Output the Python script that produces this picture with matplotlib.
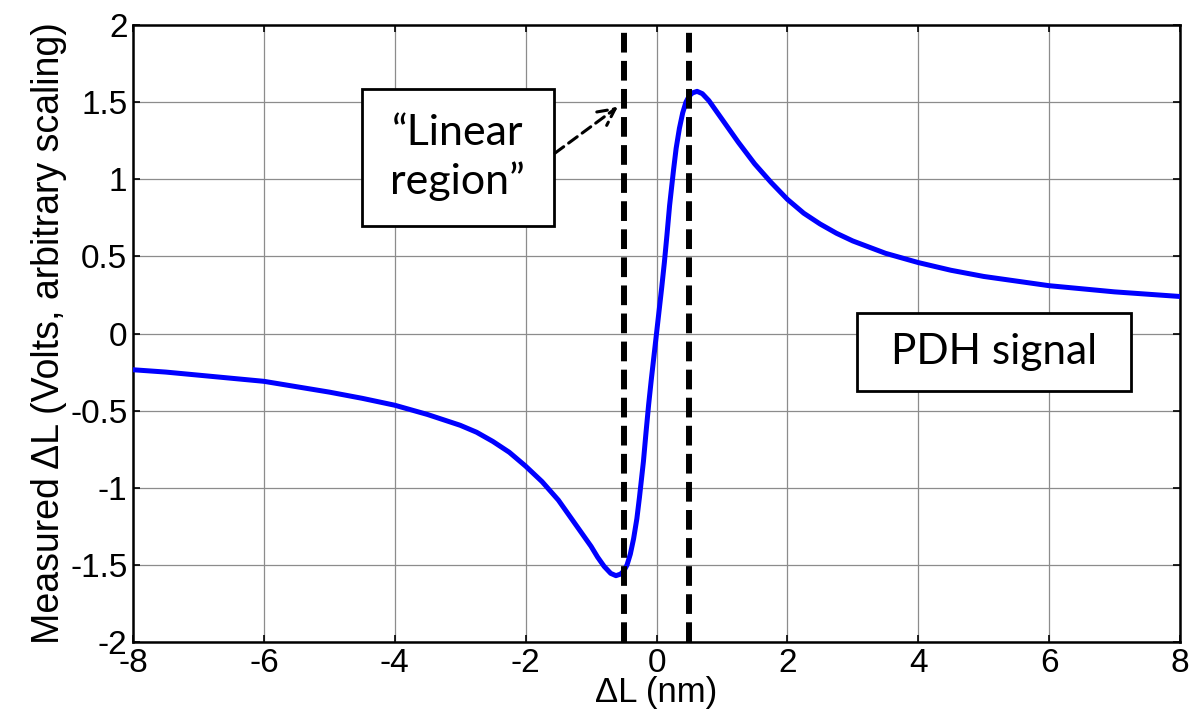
import matplotlib
matplotlib.use("Agg")
import matplotlib.pyplot as plt
from matplotlib.patches import Rectangle

# PDH error signal versus cavity length detuning
detuning_nm = [-8.0, -7.5, -7.0, -6.5, -6.0, -5.5, -5.0, -4.5, -4.0, -3.5,
               -3.0, -2.75, -2.5, -2.25, -2.0, -1.75, -1.5, -1.25, -1.0, -0.9,
               -0.8, -0.7, -0.62, -0.55, -0.5, -0.45, -0.4, -0.35, -0.3, -0.26,
               -0.2, -0.16, -0.12, -0.08, -0.04, 0.0, 0.04, 0.08, 0.12, 0.16,
               0.2, 0.26, 0.3, 0.35, 0.4, 0.45, 0.5, 0.55, 0.62, 0.7,
               0.8, 0.9, 1.0, 1.25, 1.5, 1.75, 2.0, 2.25, 2.5, 2.75,
               3.0, 3.5, 4.0, 4.5, 5.0, 5.5, 6.0, 6.5, 7.0, 7.5,
               8.0]
signal_v = [-0.235, -0.25, -0.27, -0.29, -0.31, -0.345, -0.38, -0.42, -0.465, -0.525,
            -0.595, -0.64, -0.70, -0.77, -0.86, -0.96, -1.08, -1.23, -1.38, -1.45,
            -1.51, -1.555, -1.57, -1.56, -1.54, -1.50, -1.43, -1.33, -1.20, -1.06,
            -0.83, -0.64, -0.46, -0.30, -0.15, 0.0, 0.15, 0.30, 0.46, 0.64,
            0.83, 1.06, 1.20, 1.33, 1.43, 1.50, 1.54, 1.56, 1.57, 1.555,
            1.51, 1.45, 1.39, 1.24, 1.10, 0.98, 0.87, 0.78, 0.71, 0.65,
            0.60, 0.52, 0.46, 0.41, 0.37, 0.34, 0.31, 0.29, 0.27, 0.255,
            0.24]

linear_edges = [-0.5, 0.5]
x_ticks = [-8, -6, -4, -2, 0, 2, 4, 6, 8]
y_ticks = [-2, -1.5, -1, -0.5, 0, 0.5, 1, 1.5, 2]
x_tick_labels = ["-8", "-6", "-4", "-2", "0", "2", "4", "6", "8"]
y_tick_labels = ["-2", "-1.5", "-1", "-0.5", "0", "0.5", "1", "1.5", "2"]

plt.rcParams["font.family"] = ["Liberation Sans", "DejaVu Sans"]
box_font = ["Lato", "DejaVu Sans"]

fig = plt.figure(figsize=(11.89, 7.19), dpi=100)
ax = fig.add_axes([0.1119, 0.1071, 0.8805, 0.8581])

ax.grid(True, color="#8c8c8c", linewidth=0.9, linestyle="-")
ax.set_axisbelow(True)

ax.plot(detuning_nm, signal_v, color="#0000ff", linewidth=3.6,
        solid_joinstyle="round", solid_capstyle="round", zorder=3)

for xv in linear_edges:
    ax.axvline(xv, color="black", linewidth=4.3, dashes=(3.3, 1.4), zorder=4)

ax.set_xlim(-8, 8)
ax.set_ylim(-2, 2)
ax.set_xticks(x_ticks)
ax.set_xticklabels(x_tick_labels)
ax.set_yticks(y_ticks)
ax.set_yticklabels(y_tick_labels)
ax.tick_params(direction="in", length=5, width=1.2, labelsize=24,
               top=True, right=True, pad=4)
for sp in ax.spines.values():
    sp.set_linewidth(1.8)

ax.set_xlabel("ΔL (nm)", fontsize=25, labelpad=-2)
ax.set_ylabel("Measured ΔL (Volts, arbitrary scaling)", fontsize=27, labelpad=2)

# "Linear region" callout
ax.add_patch(Rectangle((-4.50, 0.70), 2.93, 0.885, facecolor="white",
                       edgecolor="black", linewidth=2.0, zorder=5))
ax.text(-3.035, 1.14, "\u201cLinear\nregion\u201d", ha="center", va="center",
        fontsize=31, family=box_font, linespacing=1.3, zorder=6)
ax.annotate("", xy=(-0.59, 1.47), xytext=(-1.55, 1.17),
            arrowprops=dict(arrowstyle="->", color="black", linewidth=2.2,
                            linestyle=(0, (3.5, 2)), mutation_scale=30,
                            shrinkA=0, shrinkB=0),
            zorder=6)

# Signal label
ax.add_patch(Rectangle((3.06, -0.373), 4.19, 0.506, facecolor="white",
                       edgecolor="black", linewidth=2.0, zorder=5))
ax.text(5.155, -0.12, "PDH signal", ha="center", va="center",
        fontsize=30.5, family=box_font, zorder=6)

fig.savefig("out.png", dpi=100)
